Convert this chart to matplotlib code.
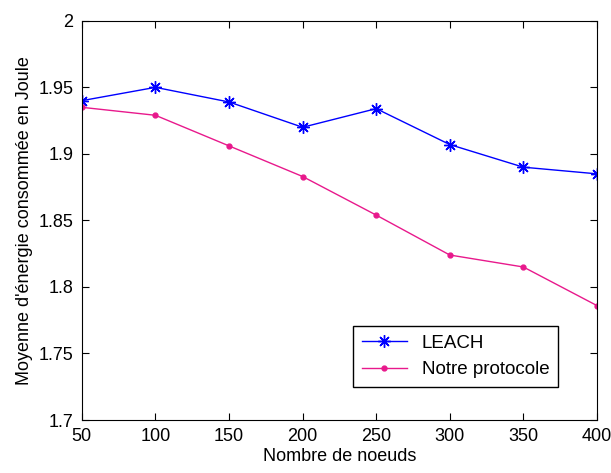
import numpy as np
import matplotlib.pyplot as plt

plt.rcParams['font.family'] = ['Liberation Sans', 'DejaVu Sans']

noeuds = [50, 100, 150, 200, 250, 300, 350, 400]
leach = [1.940, 1.950, 1.939, 1.920, 1.934, 1.907, 1.890, 1.885]
notre = [1.935, 1.929, 1.906, 1.883, 1.854, 1.824, 1.815, 1.786]

fig = plt.figure(figsize=(6.11, 4.73), dpi=100)
ax = fig.add_axes([0.134, 0.112, 0.843, 0.844])

# asterisque façon matlab
ax.plot(noeuds, leach, color='#0000ff', marker=(8, 2, 0), markersize=9,
        markeredgewidth=1, linewidth=1, label='LEACH')
ax.plot(noeuds, notre, color='#e8198c', marker='.', markersize=7, linewidth=1,
        label='Notre protocole')

ax.set_xlim(50, 400)
ax.set_ylim(1.7, 2.0)
ax.set_xticks(noeuds)
ax.set_yticks([1.7, 1.75, 1.8, 1.85, 1.9, 1.95, 2.0])
ax.set_yticklabels(['1.7', '1.75', '1.8', '1.85', '1.9', '1.95', '2'])
ax.tick_params(direction='in', top=True, right=True, labelsize=13, length=5, pad=6)
ax.set_xlabel('Nombre de noeuds', fontsize=13, labelpad=2)
ax.set_ylabel("Moyenne d'énergie consommée en Joule", fontsize=13)

leg = ax.legend(loc='lower right', bbox_to_anchor=(0.942, 0.06), fontsize=13.5,
                fancybox=False, edgecolor='black', framealpha=1,
                handlelength=2.4, borderpad=0.45, labelspacing=0.5)
leg.get_frame().set_linewidth(1)

fig.savefig('out.png', dpi=100)
